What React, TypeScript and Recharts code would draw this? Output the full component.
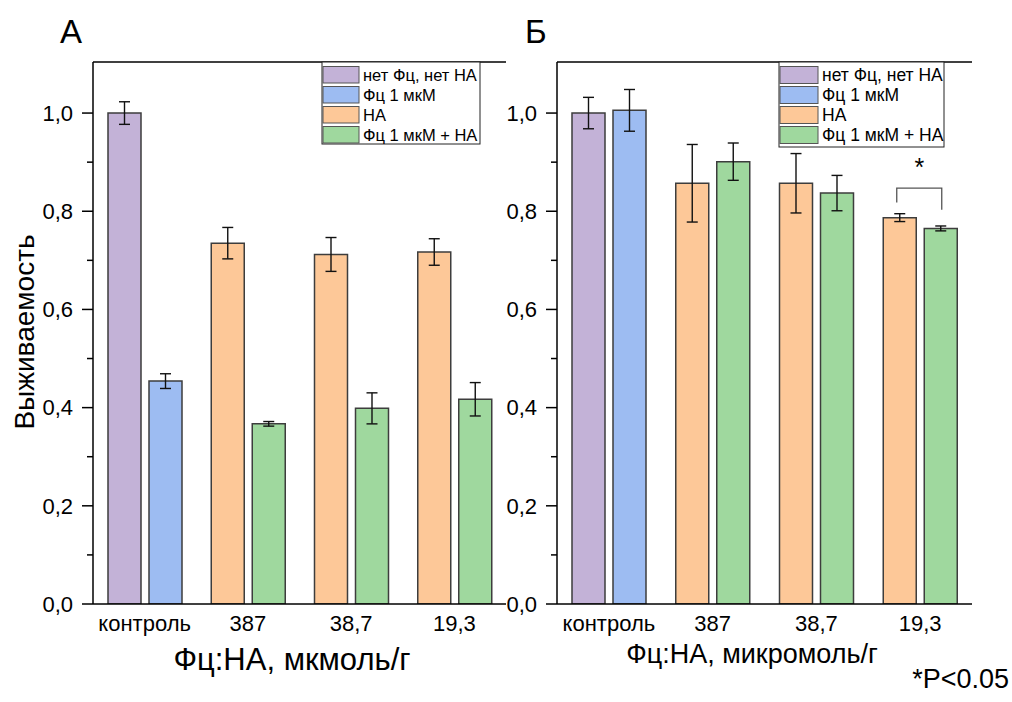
import React from 'react';
import { BarChart, Bar, XAxis, YAxis, ErrorBar, Cell, LabelList } from 'recharts';

const categories = ['контроль', '387', '38,7', '19,3'];
const seriesNames = ['нет Фц, нет НА', 'Фц 1 мкМ', 'НА', 'Фц 1 мкМ + НА'];
const seriesColors = ['#C3B2D7', '#9DBCF2', '#FDC898', '#9FD89E'];

// Panel A
const aLeft = [1.0, 0.735, 0.712, 0.717];
const aLeftErr = [0.023, 0.032, 0.0345, 0.027];
const aRight = [0.454, 0.367, 0.3985, 0.417];
const aRightErr = [0.015, 0.0047, 0.0316, 0.034];

// Panel B
const bLeft = [1.0, 0.857, 0.857, 0.787];
const bLeftErr = [0.032, 0.079, 0.0605, 0.008];
const bRight = [1.0055, 0.901, 0.837, 0.765];
const bRightErr = [0.0425, 0.038, 0.036, 0.005];

const yTicks = [0, 0.1, 0.2, 0.3, 0.4, 0.5, 0.6, 0.7, 0.8, 0.9, 1.0];
const yDomain: [number, number] = [0, 1.104];

const bracketB = { category: '19,3', top: 0.847, leftEnd: 0.818, rightEnd: 0.803, star: 0.872 };

const FONT = '"Liberation Sans", Arial, sans-serif';
const BAR_GAP = 8;

const dataA = categories.map((c, i) => ({
  cat: c, left: aLeft[i], leftErr: aLeftErr[i], right: aRight[i], rightErr: aRightErr[i], sig: null as number | null,
}));
const dataB = categories.map((c, i) => ({
  cat: c, left: bLeft[i], leftErr: bLeftErr[i], right: bRight[i], rightErr: bRightErr[i],
  sig: c === bracketB.category ? bracketB.top : null,
}));

const YTick = (props: any) => {
  const { x, y, payload } = props;
  const v = payload.value as number;
  const major = Math.round(v * 10) % 2 === 0;
  return (
    <g>
      <line x1={x - (major ? 11 : 6)} x2={x} y1={y} y2={y} stroke="#000" strokeWidth={1.5} />
      {major && (
        <text x={x - 20} y={y} dy="0.355em" textAnchor="end" fontSize={22} fill="#000" fontFamily={FONT}>
          {v.toFixed(1).replace('.', ',')}
        </text>
      )}
    </g>
  );
};

const makeBracket = (data: any[]) => (props: any) => {
  const value = props.value;
  if (value == null) return null;
  const vb = props.viewBox && props.viewBox.height != null ? props.viewBox : props;
  const { x, y, width, height } = vb;
  const row = data.find((d) => d.sig != null);
  if (!row || !height) return null;
  const scale = height / row.right;
  const base = y + height;
  const rc = x + width / 2 + 1;
  const lc = x + width / 2 - (width + BAR_GAP) - 3;
  const yt = base - bracketB.top * scale;
  const yl = base - bracketB.leftEnd * scale;
  const yr = base - bracketB.rightEnd * scale;
  const ys = base - bracketB.star * scale;
  return (
    <g>
      <path d={`M${lc},${yl} L${lc},${yt} L${rc},${yt} L${rc},${yr}`} fill="none" stroke="#555" strokeWidth={1.3} />
      <text x={(lc + rc) / 2} y={ys} textAnchor="middle" fontSize={25} fill="#000" fontFamily={FONT}>*</text>
    </g>
  );
};

const axisStyle = { stroke: '#000', strokeWidth: 1.5 };

function Panel({ data, left, width }: { data: any[]; left: number; width: number }) {
  return (
    <div style={{ position: 'absolute', left, top: 0 }}>
      <BarChart
        width={width}
        height={702}
        data={data}
        margin={{ top: 62, right: 14, bottom: 58, left: 0 }}
        barSize={33}
        barGap={BAR_GAP}
      >
        <XAxis
          dataKey="cat"
          height={40}
          tickSize={0}
          tickMargin={11}
          tickLine={false}
          axisLine={axisStyle}
          tick={{ fontSize: 22, fill: '#000', fontFamily: FONT }}
          interval={0}
        />
        <XAxis
          xAxisId="top"
          type="number"
          domain={[0, 1]}
          orientation="top"
          height={0}
          tick={false}
          tickLine={false}
          axisLine={axisStyle}
        />
        <YAxis
          type="number"
          domain={yDomain}
          ticks={yTicks}
          allowDataOverflow
          width={93}
          tickSize={0}
          tickMargin={0}
          tickLine={false}
          axisLine={axisStyle}
          tick={(p: any) => <YTick {...p} />}
          interval={0}
        />
        <YAxis yAxisId="right" orientation="right" type="number" domain={yDomain} width={0} tick={false} tickLine={false} axisLine={axisStyle} />
        <Bar dataKey="left" stroke="#3d3d3d" strokeWidth={1.5} isAnimationActive={false}>
          {data.map((d, i) => (
            <Cell key={`l${i}`} fill={i === 0 ? seriesColors[0] : seriesColors[2]} />
          ))}
          <ErrorBar dataKey="leftErr" width={5.5} stroke="#111" strokeWidth={1.4} direction="y" />
        </Bar>
        <Bar dataKey="right" stroke="#3d3d3d" strokeWidth={1.5} isAnimationActive={false}>
          {data.map((d, i) => (
            <Cell key={`r${i}`} fill={i === 0 ? seriesColors[1] : seriesColors[3]} />
          ))}
          <ErrorBar dataKey="rightErr" width={5.5} stroke="#111" strokeWidth={1.4} direction="y" />
          <LabelList dataKey="sig" content={makeBracket(data)} />
        </Bar>
      </BarChart>
    </div>
  );
}

function LegendBox({ x, y, w, h, sw, sh, pitch, font, pad }: any) {
  return (
    <g>
      <rect x={x} y={y} width={w} height={h} fill="#fff" stroke="#222" strokeWidth={1} />
      {seriesNames.map((n, i) => {
        const ry = y + pad + i * pitch;
        return (
          <g key={n}>
            <rect x={x + 1} y={ry} width={sw} height={sh} fill={seriesColors[i]} stroke="#555" strokeWidth={1} />
            <text x={x + sw + 5} y={ry + sh / 2} dy="0.36em" fontSize={font} fill="#000" fontFamily={FONT}>{n}</text>
          </g>
        );
      })}
    </g>
  );
}

export default function App() {
  return (
    <div style={{ position: 'absolute', left: 0, top: 0, width: 1012, height: 702, background: '#fff', fontFamily: FONT }}>
      <Panel data={dataA} left={0} width={520} />
      <Panel data={dataB} left={464} width={522} />
      <svg width={1012} height={702} style={{ position: 'absolute', left: 0, top: 0, pointerEvents: 'none' }}>
        <line x1={93} x2={506} y1={62} y2={62} stroke="#000" strokeWidth={1.5} />
        <line x1={557} x2={972} y1={62} y2={62} stroke="#000" strokeWidth={1.5} />
        <LegendBox x={322} y={62} w={158} h={82} sw={36} sh={16.5} pitch={20} font={16.5} pad={4.5} />
        <LegendBox x={779} y={62} w={165} h={85} sw={38} sh={17} pitch={20} font={17.5} pad={4.5} />
        <text x={60} y={43} fontSize={33} fill="#000" fontFamily={FONT}>А</text>
        <text x={525} y={43} fontSize={33} fill="#000" fontFamily={FONT}>Б</text>
        <text x={0} y={0} transform="translate(34,332) rotate(-90)" textAnchor="middle" fontSize={28} fill="#000" fontFamily={FONT}>Выживаемость</text>
        <text x={292} y={670} textAnchor="middle" fontSize={31} fill="#000" fontFamily={FONT}>Фц:НА, мкмоль/г</text>
        <text x={752} y={663} textAnchor="middle" fontSize={27} fill="#000" fontFamily={FONT}>Фц:НА, микромоль/г</text>
        <text x={1009} y={688} textAnchor="end" fontSize={27} fill="#000" fontFamily={FONT}>*P&lt;0.05</text>
      </svg>
    </div>
  );
}
